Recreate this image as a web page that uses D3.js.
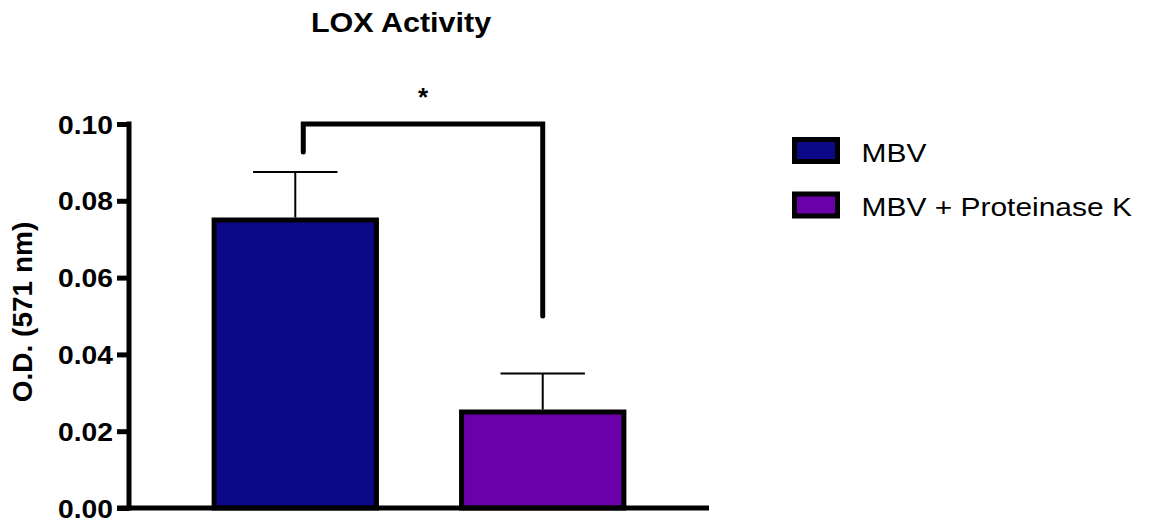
<!DOCTYPE html>
<html>
<head>
<meta charset="utf-8">
<script src="https://cdn.jsdelivr.net/npm/d3@7"></script>
<style>
  body { margin: 0; background: #fff; }
  svg { display: block; font-family: 'Liberation Sans', Arial, sans-serif; }
</style>
</head>
<body>
<div id="chart"></div>
<script>
// data ------------------------------------------------------------------
const categories = ['MBV', 'MBV + Proteinase K'];
const means = [0.075, 0.025];
const errors = [0.0125, 0.010];
const colors = ['#0d0887', '#6a00a8'];
const yTicks = [0.00, 0.02, 0.04, 0.06, 0.08, 0.10];
// significance bracket: left leg bottom, right leg bottom, top
const bracket = { left: 0.0927, right: 0.05, top: 0.10, label: '*' };

// layout ------------------------------------------------------------------
const width = 1149, height = 523;
const x0 = 129, x1 = 709, yTop = 124, yBottom = 508;
const stretch = 1.13; // text in the picture is a bit wide

const svg = d3.select('#chart').append('svg')
  .attr('width', width)
  .attr('height', height);

const x = d3.scaleBand()
  .domain(categories)
  .range([x0, x1])
  .padding(0.344);
const y = d3.scaleLinear()
  .domain([0, 0.10])
  .range([yBottom, yTop]);

// title -------------------------------------------------------------------
svg.append('text')
  .attr('transform', 'translate(401,32) scale(' + stretch + ',1)')
  .attr('text-anchor', 'middle')
  .attr('font-size', '27px')
  .attr('font-weight', 'bold')
  .text('LOX Activity');

// bars --------------------------------------------------------------------
const g = svg.append('g');
g.selectAll('rect.bar')
  .data(categories)
  .enter().append('rect')
  .attr('class', 'bar')
  .attr('x', d => x(d))
  .attr('y', (d, i) => y(means[i]))
  .attr('width', x.bandwidth())
  .attr('height', (d, i) => y(0) - y(means[i]))
  .attr('fill', (d, i) => colors[i])
  .attr('stroke', '#000')
  .attr('stroke-width', 5);

// error bars (upper only) ------------------------------------------------
const capW = x.bandwidth() * 0.52;
const eb = g.selectAll('g.err')
  .data(categories)
  .enter().append('g')
  .attr('class', 'err')
  .attr('stroke', '#000')
  .attr('stroke-width', 2);
eb.append('line')
  .attr('x1', d => x(d) + x.bandwidth() / 2)
  .attr('x2', d => x(d) + x.bandwidth() / 2)
  .attr('y1', (d, i) => y(means[i]) - 2.5)
  .attr('y2', (d, i) => y(means[i] + errors[i]));
eb.append('line')
  .attr('x1', d => x(d) + x.bandwidth() / 2 - capW / 2)
  .attr('x2', d => x(d) + x.bandwidth() / 2 + capW / 2)
  .attr('y1', (d, i) => y(means[i] + errors[i]))
  .attr('y2', (d, i) => y(means[i] + errors[i]));

// axes --------------------------------------------------------------------
const yAxis = svg.append('g')
  .attr('transform', 'translate(' + x0 + ',0)')
  .call(d3.axisLeft(y).tickValues(yTicks).tickFormat(d3.format('.2f')).tickSize(12).tickPadding(4));
yAxis.select('.domain').remove();
yAxis.selectAll('.tick line').attr('stroke', '#000').attr('stroke-width', 5);
yAxis.selectAll('.tick text')
  .attr('x', 0)
  .attr('font-size', '25px')
  .attr('font-weight', 'bold')
  .attr('font-family', "'Liberation Sans', Arial, sans-serif")
  .attr('fill', '#000')
  .attr('dy', '0.36em')
  .attr('transform', 'translate(-16,0) scale(' + stretch + ',1)');
yAxis.append('line')
  .attr('x1', 0).attr('x2', 0)
  .attr('y1', y(0.10) - 2.5).attr('y2', y(0) + 2.5)
  .attr('stroke', '#000').attr('stroke-width', 5);

svg.append('line')
  .attr('x1', x0 - 12).attr('x2', x1)
  .attr('y1', y(0)).attr('y2', y(0))
  .attr('stroke', '#000').attr('stroke-width', 5);

svg.append('text')
  .attr('transform', 'translate(32,' + ((yTop + yBottom) / 2 - 4) + ') rotate(-90)')
  .attr('text-anchor', 'middle')
  .attr('font-size', '28px')
  .attr('font-weight', 'bold')
  .text('O.D. (571 nm)');

// significance bracket -----------------------------------------------------
const bx1 = x(categories[0]) + x.bandwidth() / 2 + 8;
const bx2 = x(categories[1]) + x.bandwidth() / 2;
svg.append('path')
  .attr('d', d3.line()([
    [bx1, y(bracket.left)], [bx1, y(bracket.top)],
    [bx2, y(bracket.top)], [bx2, y(bracket.right)]
  ]))
  .attr('fill', 'none')
  .attr('stroke', '#000')
  .attr('stroke-width', 5)
  .attr('stroke-linecap', 'round')
  .attr('stroke-linejoin', 'miter');
svg.append('text')
  .attr('x', (bx1 + bx2) / 2)
  .attr('y', y(bracket.top) - 18)
  .attr('text-anchor', 'middle')
  .attr('font-size', '26px')
  .attr('font-weight', 'bold')
  .text(bracket.label);

// legend ------------------------------------------------------------------
const legend = svg.append('g')
  .attr('transform', 'translate(794.5,139.5)')
  .selectAll('g')
  .data(categories)
  .enter().append('g')
  .attr('transform', (d, i) => 'translate(0,' + (i * 54.5) + ')');
legend.append('rect')
  .attr('width', 43)
  .attr('height', 22)
  .attr('fill', (d, i) => colors[i])
  .attr('stroke', '#000')
  .attr('stroke-width', 5);
legend.append('text')
  .attr('transform', 'translate(67,22) scale(' + stretch + ',1)')
  .attr('font-size', '26.5px')
  .text(d => d);
</script>
</body>
</html>
